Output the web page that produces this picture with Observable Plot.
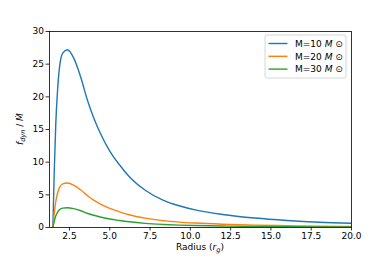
<!DOCTYPE html>
<html>
<head>
<meta charset="utf-8">
<script src="https://cdn.jsdelivr.net/npm/d3@7"></script>
<script src="https://cdn.jsdelivr.net/npm/@observablehq/plot@0.6"></script>
<style>
  html, body { margin: 0; padding: 0; background: #fff; }
  #chart { width: 390px; height: 260px; }
</style>
</head>
<body>
<div id="chart"></div>
<script>
const radius = [1.47, 1.55, 1.65, 1.76, 1.88, 2.08, 2.37, 2.75, 3.2, 3.6, 4.0, 4.4, 5.0, 5.6, 6.2, 7.2, 8.3, 9.3, 10.3, 12.0, 14.0, 16.0, 18.0, 20.0];
const m10 = [0, 8.2, 15.9, 21.0, 24.5, 26.7, 27.2, 26.0, 23.0, 19.6, 16.8, 14.5, 11.7, 9.6, 7.8, 5.7, 4.2, 3.33, 2.7, 2.0, 1.45, 1.07, 0.8, 0.64];
const m20 = [0, 2.05, 3.98, 5.25, 6.12, 6.68, 6.8, 6.5, 5.75, 4.9, 4.2, 3.62, 2.92, 2.4, 1.95, 1.43, 1.05, 0.83, 0.68, 0.5, 0.36, 0.27, 0.2, 0.16];
const m30 = [0, 0.91, 1.77, 2.33, 2.72, 2.97, 3.02, 2.89, 2.56, 2.18, 1.87, 1.61, 1.3, 1.07, 0.87, 0.63, 0.47, 0.37, 0.3, 0.22, 0.16, 0.12, 0.09, 0.07];
const seriesNames = ["M=10", "M=20", "M=30"];
const seriesColors = ["#1f77b4", "#ff7f0e", "#2ca02c"];
const xTicks = [2.5, 5.0, 7.5, 10.0, 12.5, 15.0, 17.5, 20.0];
const yTicks = [0, 5, 10, 15, 20, 25, 30];

const allSeries = [m10, m20, m30];
const rows = [];
allSeries.forEach((vals, si) => {
  vals.forEach((v, i) => rows.push({r: radius[i], v, s: seriesNames[si]}));
});

const plot = Plot.plot({
  width: 390,
  height: 260,
  marginLeft: 49,
  marginRight: 39,
  marginTop: 31,
  marginBottom: 33,
  style: {fontFamily: "DejaVu Sans", fontSize: "9px", color: "black", background: "white"},
  x: {domain: [1.26, 20]},
  y: {domain: [0, 30]},
  color: {domain: seriesNames, range: seriesColors},
  marks: [
    Plot.line(rows, {x: "r", y: "v", z: "s", stroke: "s", strokeWidth: 1.4, curve: "monotone-x", clip: true}),
    Plot.axisX({ticks: xTicks, tickFormat: d3.format(".1f"), tickSize: 3.5, tickPadding: 2, label: null, strokeWidth: 0.8}),
    Plot.axisY({ticks: yTicks, tickSize: 3.5, tickPadding: 2, label: null, strokeWidth: 0.8}),
    Plot.frame({stroke: "black", strokeWidth: 0.8})
  ]
});
document.getElementById("chart").appendChild(plot);

const svg = d3.select(plot);
// x label
const xl = svg.append("text").attr("x", 200).attr("y", 250).attr("text-anchor", "middle")
  .attr("font-size", 9).attr("fill", "black");
xl.append("tspan").text("Radius (");
xl.append("tspan").attr("font-style", "italic").text("r");
xl.append("tspan").attr("font-style", "italic").attr("font-size", 6.5).attr("dy", 2).text("g");
xl.append("tspan").attr("dy", -2).text(")");

// y label
const yl = svg.append("text").attr("transform", "translate(23,129) rotate(-90)")
  .attr("text-anchor", "middle").attr("font-size", 9).attr("fill", "black");
yl.append("tspan").attr("font-style", "italic").text("f");
yl.append("tspan").attr("font-style", "italic").attr("font-size", 6.5).attr("dy", 2).text("dyn");
yl.append("tspan").attr("dy", -2).text(" / ");
yl.append("tspan").attr("font-style", "italic").text("Ṁ");

// legend
const lg = svg.append("g");
lg.append("rect").attr("x", 265).attr("y", 35).attr("width", 81).attr("height", 43)
  .attr("rx", 2).attr("fill", "white").attr("fill-opacity", 0.8)
  .attr("stroke", "#cccccc").attr("stroke-width", 0.8);
seriesNames.forEach((name, i) => {
  const yy = 43.5 + i * 12.8;
  lg.append("line").attr("x1", 268.5).attr("x2", 287.5).attr("y1", yy).attr("y2", yy)
    .attr("stroke", seriesColors[i]).attr("stroke-width", 1.4);
  const t = lg.append("text").attr("x", 295).attr("y", yy + 3.2).attr("font-size", 9)
    .attr("fill", "black").attr("text-anchor", "start");
  t.append("tspan").text(name + " ");
  t.append("tspan").attr("font-style", "italic").text("M");
  t.append("tspan").text(" \u2299");
});
</script>
</body>
</html>
